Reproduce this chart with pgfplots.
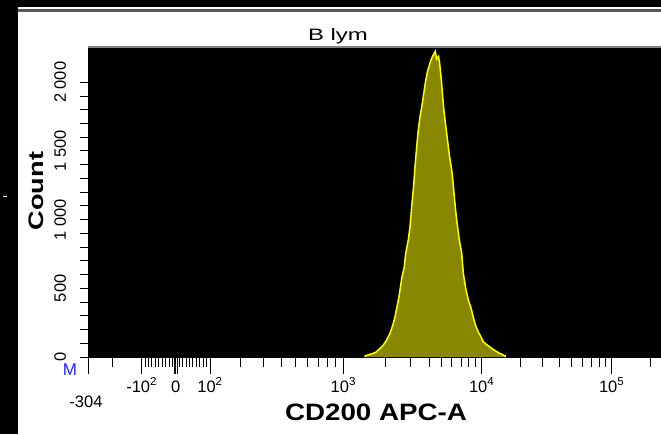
\documentclass[border=0pt]{standalone}
\usepackage{pgfplots}
\usepackage{pgfplotstable}
\pgfplotsset{compat=1.18}
\usepackage{fontspec}
\setmainfont{Liberation Sans}

\definecolor{histfill}{RGB}{136,136,0}
\definecolor{histline}{RGB}{255,255,0}
\definecolor{framegray}{RGB}{90,90,90}
\definecolor{plotgray}{RGB}{130,130,130}
\definecolor{gateblue}{RGB}{40,40,255}

% CD200 APC-A histogram, x in display channels of the biexponential scale
\pgfplotstableread{
ch     count
277.0  0
277.0  7
280.0  15
283.0  22
285.3  27
288.0  36
290.3  51
293.0  69
295.3  87
297.0  106
298.7  124
300.3  149
302.0  173
304.3  221
305.7  255
307.0  294
308.3  342
309.7  391
311.0  439
312.0  488
313.7  573
315.0  615
316.3  658
317.7  755
319.0  803
320.3  852
322.0  949
323.0  1034
323.7  1095
324.5  1158
325.3  1216
326.2  1304
327.0  1386
328.0  1471
328.7  1532
329.5  1595
330.3  1653
331.2  1704
332.0  1750
333.2  1799
334.3  1848
335.3  1896
336.3  1945
337.5  2005
338.7  2050
339.8  2090
341.0  2114
342.3  2148
343.7  2175
345.0  2196
346.3  2212
347.3  2225
348.5  2170
349.5  2181
350.5  2189
351.5  2148
352.5  2076
353.5  2005
354.7  1894
356.0  1787
357.3  1711
358.7  1629
360.0  1551
361.3  1471
362.5  1417
363.7  1362
365.0  1275
366.0  1192
367.3  1092
368.7  998
370.0  925
371.3  852
372.5  803
373.7  755
374.5  685
375.3  610
376.7  546
378.0  488
379.2  452
380.3  415
381.5  390
382.7  366
384.3  320
386.0  269
387.3  237
388.7  209
390.3  182
392.0  160
393.7  135
395.3  111
397.3  98
399.3  87
401.5  75
403.7  63
406.0  51
408.7  39
411.0  29
413.7  20
415.5  13
417.0  9
417.0  0
}\histdata

\newcommand{\tickfont}{\fontsize{16.5}{17}\selectfont}

\begin{document}
\begin{tikzpicture}[x=1pt,y=1pt]
\useasboundingbox (0,0) rectangle (661,434);
\fill[black] (0,0) rectangle (661,434);
\fill[white] (18,0) rectangle (661,426.7);
\fill[framegray] (18,422.3) rectangle (661,425);
\fill[white] (3,236.5) rectangle (7,237.8);

% histogram and the x scale
\begin{axis}[
  at={(88pt,77pt)}, anchor=south west,
  scale only axis, width=573pt, height=310pt,
  xmin=0, xmax=573, ymin=0, ymax=2257,
  axis background/.style={fill=black},
  axis x line*=bottom, axis y line*=left,
  axis line style={black, line width=1pt},
  ytick=\empty,
  tick align=outside,
  major tick length=17pt, minor tick length=10pt,
  every tick/.style={black, line width=1pt},
  xtick={0,53.7,87.8,122,255.3,393.7,523.7},
  xticklabels={{},{-10\textsuperscript{2}},{0},{10\textsuperscript{2}},{10\textsuperscript{3}},{10\textsuperscript{4}},{10\textsuperscript{5}}},
  minor xtick={24.7,
    57.1,60.5,63.9,67.4,70.8,74.2,77.6,81.0,84.4,
    91.3,94.7,98.1,101.5,104.9,108.4,111.8,115.2,118.6,
    152,175,193,207,219,230,239,247,
    297.7,322.7,341.3,353.7,363.7,373.7,380.3,387,
    432.7,454.7,471,483.7,494.7,503.7,511,517,
    562.7},
  extra x ticks={86.1,89.5},
  extra x tick labels={},
  xticklabel style={font=\tickfont, anchor=base, inner sep=0pt, yshift=-18pt},
]
\addplot[fill=histfill, draw=none] table[x=ch, y=count] {\histdata} \closedcycle;
\addplot[draw=histline, line width=1.5pt, line join=miter] table[x=ch, y=count] {\histdata};
\end{axis}

% count scale
\begin{axis}[
  at={(88pt,77pt)}, anchor=south west,
  scale only axis, width=573pt, height=310pt,
  xmin=0, xmax=573, ymin=0, ymax=2257,
  axis x line=none, axis y line*=left,
  axis line style={black, line width=1pt},
  xtick=\empty,
  ytick={0,500,1000,1500,2000},
  yticklabels={0,500,1 000,1 500,2 000},
  minor y tick num=4,
  tick align=outside,
  major tick length=8pt, minor tick length=8pt,
  every tick/.style={black, line width=1pt},
  yticklabel style={font=\tickfont, xshift=-14pt, rotate=90, anchor=base, inner sep=0pt},
]
\end{axis}

% frame line over the plot area
\fill[plotgray] (88,385.8) rectangle (661,388.1);

% titles and markers
\node[font=\fontsize{16.5}{17}\selectfont, anchor=base] at (338,393) {\scalebox{1.45}[1]{B lym}};
\node[font=\bfseries\fontsize{21}{22}\selectfont, anchor=base, rotate=90] at (43,243) {\scalebox{1.29}[1]{Count}};
\node[font=\bfseries\fontsize{23.7}{24}\selectfont, anchor=base] at (376,14) {\scalebox{1.17}[1]{CD200 APC-A}};
\node[font=\tickfont, anchor=base] at (86,27) {-304};
\node[font=\fontsize{17}{18}\selectfont, anchor=base, text=gateblue] at (70,59) {M};
\end{tikzpicture}
\end{document}
